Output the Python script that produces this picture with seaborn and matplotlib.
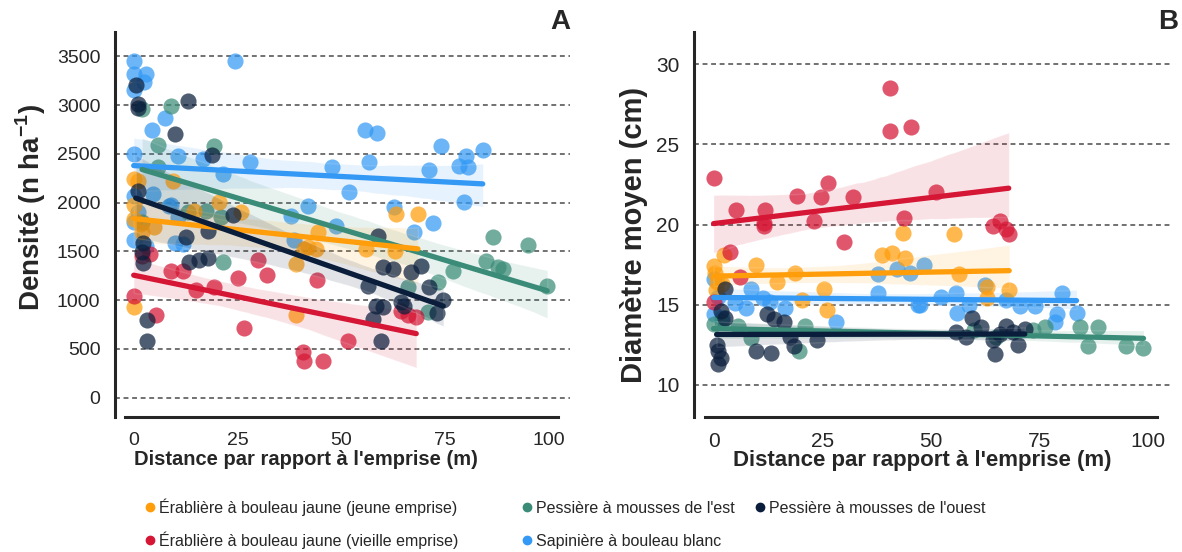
import matplotlib
matplotlib.use('Agg')
import matplotlib.pyplot as plt
from matplotlib.lines import Line2D
import seaborn as sns
import pandas as pd

# group names and colours
groups = ["Érablière à bouleau jaune (jeune emprise)",
          "Érablière à bouleau jaune (vieille emprise)",
          "Pessière à mousses de l'est",
          "Sapinière à bouleau blanc",
          "Pessière à mousses de l'ouest"]
colors = ["#FF9D0A", "#D51635", "#3A8C78", "#3399F5", "#0A1E3C"]
# draw order (back to front)
draw_order = [3, 2, 0, 1, 4]

# ---- panel A : density (n/ha) vs distance (m)
a_jeune_x = [0, 0, 0, 1, 1.7, 0, 9.4, 14.5, 20.5, 25.8, 44.3, 41, 43.9, 39, 39, 68.4, 63.1, 56, 63, 42, 2, 5]
a_jeune_y = [2240, 1980, 1830, 2220, 1780, 925, 2220, 1910, 2010, 1900, 1700, 1520, 1520, 1370, 850, 1880, 1880, 1520, 1500, 1540, 1700, 1750]
a_vieille_x = [0, 5.3, 4, 2, 11.8, 19.3, 25, 30, 32, 26.5, 44, 40.7, 41, 45.5, 51.5, 66, 68, 64.3, 9, 15]
a_vieille_y = [1040, 850, 1470, 1450, 1295, 1130, 1230, 1410, 1255, 710, 1210, 470, 370, 370, 575, 850, 830, 885, 1300, 1100]
a_est_x = [8.9, 2, 5.8, 19.3, 5.8, 17.3, 21, 21.4, 86.5, 95, 84.8, 87.7, 88.9, 99.5, 76.9, 73.2, 66, 70.8, 2, 13]
a_est_y = [2990, 2960, 2590, 2580, 2370, 1910, 1850, 1390, 1650, 1560, 1400, 1335, 1315, 1140, 1295, 1190, 1130, 880, 1800, 1900]
a_sapin_x = [0, 0, 2.9, 2.4, 0, 7.5, 4.3, 0, 10.6, 16.6, 28, 24.3, 21.4, 47.7, 51.8, 0, 4.6, 8.4, 42, 37.8,
             55.7, 58.6, 56.6, 74, 84, 80, 78.3, 80.5, 71, 79.5, 62.6, 72, 67.5, 48.7, 0, 8.9, 10.6, 10, 11.8, 38.6,
             0, 1, 3]
a_sapin_y = [3450, 3315, 3315, 3235, 2495, 2865, 2740, 3160, 2475, 2445, 2415, 3450, 2290, 2370, 2105, 2065, 2085, 1960, 1960, 1860,
             2740, 2710, 2415, 2585, 2535, 2475, 2380, 2360, 2330, 2010, 1950, 1790, 1695, 1755, 1620, 1980, 1850, 1590, 1570, 1620,
             1800, 1900, 1550]
a_ouest_x = [0.5, 1, 1, 13, 9.9, 18.8, 1, 24, 17.8, 12.5, 2.2, 1.9, 2.2, 13.3, 15.7, 18, 3.1, 3.1,
             58.8, 60, 62.4, 66.7, 69.2, 71, 56.4, 58.3, 60, 65, 64.3, 57.6, 59.5, 74.5, 73]
a_ouest_y = [3210, 3010, 2970, 3040, 2700, 2485, 2115, 1870, 1705, 1645, 1590, 1490, 1385, 1395, 1415, 1435, 800, 575,
             1655, 1335, 1315, 1285, 1345, 1130, 1140, 935, 925, 935, 975, 810, 575, 1000, 870]

# ---- panel B : mean diameter (cm) vs distance (m)
b_jeune_x = [0, 0.4, 0.8, 2.3, 9.7, 14.7, 18.7, 25.3, 26, 20.3, 38.8, 41, 44, 43.6, 55.3, 56.4, 63, 68, 62.8, 0.5, 2]
b_jeune_y = [17.4, 17.0, 16.4, 18.1, 17.5, 16.4, 17.0, 16.0, 14.7, 15.3, 18.1, 18.2, 17.9, 19.5, 19.4, 16.9, 16.1, 15.9, 15.4, 15.9, 16.3]
b_vieille_x = [0, 5.2, 11.9, 11.5, 19.2, 24.8, 26.4, 32, 23, 40.6, 40.6, 45.4, 43.8, 51.2, 11.7, 30, 3.8, 6.1, 0, 65.9, 64.3, 67.3, 67.9]
b_vieille_y = [22.9, 20.9, 20.9, 20.1, 21.8, 21.7, 22.6, 21.7, 20.2, 28.5, 25.8, 26.1, 20.4, 22.0, 19.9, 18.9, 18.3, 16.7, 15.2, 20.2, 19.9, 19.7, 19.4]
b_est_x = [84.2, 88.5, 86.2, 94.8, 98.9, 76.3, 73.4, 5.6, 8.6, 19.6, 21, 0, 2, 60, 65]
b_est_y = [13.6, 13.6, 12.4, 12.4, 12.3, 13.6, 13.4, 13.7, 12.9, 12.1, 13.7, 13.8, 14.0, 13.4, 13.0]
b_sapin_x = [0, 0, 8.6, 11.3, 7.4, 16.5, 28.2, 37.9, 42.2, 48.3, 37.9, 47.4, 45.1, 47, 52.4, 55.8, 56, 58.7, 62.5, 67.3,
             70.4, 74, 80.1, 79, 78.6, 83.5, 1, 2, 5, 13]
b_sapin_y = [16.6, 14.4, 16.0, 15.4, 14.8, 14.8, 13.9, 16.9, 17.2, 17.5, 15.7, 15.0, 17.0, 15.0, 15.5, 15.7, 14.5, 15.0, 16.2, 15.3,
             14.9, 14.9, 15.7, 14.4, 13.9, 14.5, 15.5, 14.2, 15.1, 15.2]
b_ouest_x = [0.7, 1.1, 1.8, 1.1, 2.7, 1.8, 2.7, 12.4, 14, 16.3, 17.6, 18.5, 9.7, 13.1, 23.7,
             55.8, 58, 59.4, 61.6, 64.3, 64.8, 67.3, 68.8, 70, 71.6, 65.9]
b_ouest_y = [12.5, 12.1, 11.7, 11.3, 16.0, 14.6, 14.2, 14.4, 14.1, 13.9, 13.0, 12.4, 12.1, 12.0, 12.8,
             13.3, 13.0, 14.2, 13.6, 12.8, 11.9, 13.7, 13.3, 12.5, 13.5, 13.2]

a_data = [(a_jeune_x, a_jeune_y), (a_vieille_x, a_vieille_y), (a_est_x, a_est_y),
          (a_sapin_x, a_sapin_y), (a_ouest_x, a_ouest_y)]
b_data = [(b_jeune_x, b_jeune_y), (b_vieille_x, b_vieille_y), (b_est_x, b_est_y),
          (b_sapin_x, b_sapin_y), (b_ouest_x, b_ouest_y)]

sns.set_style('white')
plt.rcParams['font.family'] = ['Liberation Sans', 'DejaVu Sans']
plt.rcParams['mathtext.fontset'] = 'custom'
plt.rcParams['mathtext.rm'] = 'Liberation Sans'
plt.rcParams['mathtext.bf'] = 'Liberation Sans:bold'

W, H = 1182, 552
fig = plt.figure(figsize=(W / 100, H / 100), dpi=100)


def px_axes(left, top, right, bottom):
    return fig.add_axes([left / W, 1 - bottom / H, (right - left) / W, (bottom - top) / H])


def draw_panel(ax, data, ylim, yticks, ylabel, label, fs_tick, fs_x, fs_y, xlab_pos, ylab_pos, lab_x):
    for gi in draw_order:
        x, y = data[gi]
        df = pd.DataFrame({'x': x, 'y': y})
        sns.regplot(data=df, x='x', y='y', ax=ax, color=colors[gi], ci=95, seed=1,
                    scatter_kws=dict(s=135, alpha=0.72, linewidths=0),
                    line_kws=dict(lw=3.8, alpha=1), truncate=True)
    # lighter confidence bands
    for coll in ax.collections:
        if 'Poly' in coll.__class__.__name__:
            coll.set_alpha(0.12)
    ax.set_xlim(-4.5, 105)
    ax.set_ylim(*ylim)
    ax.set_xticks([0, 25, 50, 75, 100])
    ax.set_yticks(yticks)
    for yt in yticks:
        ax.axhline(yt, color='#4a4a4a', lw=1.1, ls=(0, (3.2, 2.4)), zorder=0)
    for s in ['top', 'right']:
        ax.spines[s].set_visible(False)
    ax.spines['left'].set_linewidth(2.2)
    ax.spines['bottom'].set_linewidth(2.2)
    ax.spines['bottom'].set_bounds(-2, 102)
    ax.tick_params(axis='both', length=5, width=2.0, labelsize=fs_tick, color='black', pad=5.5)
    ax.set_xlabel("Distance par rapport à l'emprise (m)", fontsize=fs_x, fontweight='bold')
    ax.set_ylabel(ylabel, fontsize=fs_y, fontweight='bold')
    ax.xaxis.set_label_coords(*xlab_pos)
    ax.yaxis.set_label_coords(*ylab_pos)
    ax.text(lab_x, 1.026, label, transform=ax.transAxes, ha='right', va='center',
            fontsize=20, fontweight='bold')


axA = px_axes(115, 32, 570, 417)
draw_panel(axA, a_data, (-200, 3750), [0, 500, 1000, 1500, 2000, 2500, 3000, 3500],
           r'Densité (n ha$^{\mathbf{-1}}$)', 'A', 14, 14.5, 20, (0.42, -0.085), (-0.147, 0.545), 1.0)
axB = px_axes(694, 32, 1170, 417)
draw_panel(axB, b_data, (8, 32), [10, 15, 20, 25, 30], 'Diamètre moyen (cm)', 'B',
           15, 16, 21, (0.48, -0.085), (-0.097, 0.473), 1.017)

# legend: three columns placed individually (accented labels are taller, so
# the other columns get a small offset to keep rows aligned)
cols = [[0, 1], [2, 3], [4]]
col_x = [145, 522, 755]
col_top = [498, 501, 501]
col_space = [1.0, 1.13, 1.0]
for idx, xpos, ytop, sp in zip(cols, col_x, col_top, col_space):
    handles = [Line2D([], [], marker='o', ls='', color=colors[i], markersize=6) for i in idx]
    fig.legend(handles, [groups[i] for i in idx], loc='upper left',
               bbox_to_anchor=(xpos / W, 1 - ytop / H), ncol=1, frameon=False,
               fontsize=11.5, handletextpad=0.3, labelspacing=sp, handlelength=0.6,
               borderpad=0, borderaxespad=0)

fig.savefig('out.png', dpi=100)
